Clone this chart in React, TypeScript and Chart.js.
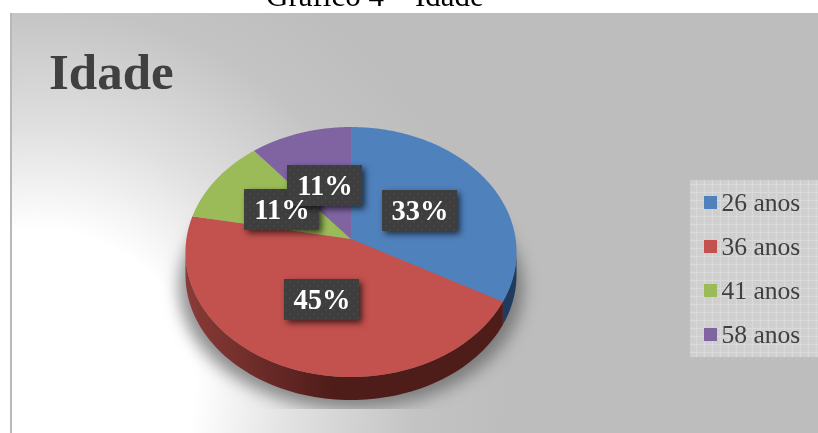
import { useEffect, useRef } from "react";
import { Chart, registerables, ArcElement, PieController } from "chart.js";

Chart.register(...registerables);

const categories = ["26 anos", "36 anos", "41 anos", "58 anos"];
const percentValues = [33, 45, 11, 11];
const sliceColors = ["#4f81bd", "#c3514e", "#9bbb59", "#8064a2"];
const wallDark = ["#1f3c5f", "#4e1c19", "#4e5e2c", "#403251"];
const wallLight = ["#2c5380", "#8a3b37", "#6a7f3c", "#574470"];
const valueLabelBoxes = [
  { x: 382, y: 190 },
  { x: 284, y: 279 },
  { x: 244, y: 189 },
  { x: 287, y: 165 },
];

const SERIF = '"Liberation Serif", serif';
const PIE = { cx: 351, cy: 239, rx: 164.6, ky: 123.65, p: -0.104, depth: 23 };

function project(theta: number) {
  const u = Math.sin(theta);
  const v = -Math.cos(theta);
  const d = 1 + PIE.p * v;
  return { x: PIE.cx + (PIE.rx * u) / d, y: PIE.cy + (PIE.ky * v) / d };
}

class TiltedArc extends ArcElement {
  static id = "tiltedArc";
  draw(ctx: CanvasRenderingContext2D) {
    const { startAngle, endAngle, options } = this as any;
    const a0 = startAngle + Math.PI / 2;
    const a1 = endAngle + Math.PI / 2;
    const index = sliceColors.indexOf(options.backgroundColor);
    // Side wall, only where the rim faces the viewer
    const front0 = Math.max(a0, (96 * Math.PI) / 180);
    const front1 = Math.min(a1, (264 * Math.PI) / 180);
    ctx.save();
    if (front1 > front0) {
      const grad = ctx.createLinearGradient(185, 0, 517, 0);
      grad.addColorStop(0, wallLight[index]);
      grad.addColorStop(0.45, wallDark[index]);
      grad.addColorStop(1, wallDark[index]);
      ctx.fillStyle = grad;
      ctx.beginPath();
      const n = 90;
      for (let i = 0; i <= n; i++) {
        const pt = project(front0 + ((front1 - front0) * i) / n);
        if (i === 0) ctx.moveTo(pt.x, pt.y);
        else ctx.lineTo(pt.x, pt.y);
      }
      for (let i = n; i >= 0; i--) {
        const pt = project(front0 + ((front1 - front0) * i) / n);
        ctx.lineTo(pt.x, pt.y + PIE.depth);
      }
      ctx.closePath();
      ctx.fill();
    }
    // Top face
    ctx.fillStyle = options.backgroundColor;
    ctx.beginPath();
    ctx.moveTo(PIE.cx, PIE.cy);
    const steps = 120;
    for (let i = 0; i <= steps; i++) {
      const pt = project(a0 + ((a1 - a0) * i) / steps);
      ctx.lineTo(pt.x, pt.y);
    }
    ctx.closePath();
    ctx.fill();
    ctx.restore();
  }
}

class TiltedPie extends PieController {
  static id = "tiltedPie";
  static defaults = { ...(PieController as any).defaults, dataElementType: "tiltedArc" };
  static overrides = (PieController as any).overrides;
}

Chart.register(TiltedArc as any, TiltedPie as any);

function makeLegendPattern(ctx: CanvasRenderingContext2D) {
  const c = document.createElement("canvas");
  c.width = 8;
  c.height = 8;
  const g = c.getContext("2d")!;
  g.fillStyle = "#d0d0d0";
  g.fillRect(0, 0, 8, 8);
  g.fillStyle = "#dadada";
  g.fillRect(0, 0, 8, 1);
  g.fillRect(0, 0, 1, 8);
  g.fillStyle = "#c9c9c9";
  g.fillRect(2, 2, 1, 1);
  g.fillRect(5, 5, 1, 1);
  g.fillRect(2, 5, 1, 1);
  g.fillRect(5, 2, 1, 1);
  return ctx.createPattern(c, "repeat")!;
}

function makeLabelPattern(ctx: CanvasRenderingContext2D) {
  const c = document.createElement("canvas");
  c.width = 8;
  c.height = 8;
  const g = c.getContext("2d")!;
  g.fillStyle = "#3e3e3e";
  g.fillRect(0, 0, 8, 8);
  g.fillStyle = "#464646";
  g.fillRect(1, 1, 2, 2);
  g.fillRect(5, 5, 2, 2);
  return ctx.createPattern(c, "repeat")!;
}

const backdropPlugin = {
  id: "backdrop",
  beforeDraw(chart: any) {
    const ctx: CanvasRenderingContext2D = chart.ctx;
    ctx.save();
    ctx.fillStyle = "#ffffff";
    ctx.fillRect(0, 0, 818, 433);
    // Panel
    ctx.beginPath();
    ctx.rect(12, 13, 806, 420);
    ctx.save();
    ctx.clip();
    ctx.fillStyle = "#bdbdbd";
    ctx.fillRect(12, 13, 806, 420);
    const glow = ctx.createRadialGradient(40, 385, 0, 40, 385, 470);
    glow.addColorStop(0, "rgba(255,255,255,1)");
    glow.addColorStop(0.33, "rgba(255,255,255,1)");
    glow.addColorStop(0.55, "rgba(255,255,255,0.53)");
    glow.addColorStop(0.8, "rgba(255,255,255,0.1)");
    glow.addColorStop(1, "rgba(255,255,255,0)");
    ctx.fillStyle = glow;
    ctx.fillRect(12, 13, 806, 420);
    // Cast shadow of the pie, cut off by a hard edge at its bottom
    ctx.beginPath();
    ctx.rect(140, 100, 420, 309);
    ctx.clip();
    ctx.filter = "blur(8px)";
    ctx.fillStyle = "rgba(80,80,80,0.62)";
    ctx.beginPath();
    ctx.ellipse(351, 288, 172, 121, 0, 0, Math.PI * 2);
    ctx.fill();
    ctx.filter = "none";
    ctx.restore();
    ctx.fillStyle = "#b8b8b8";
    ctx.fillRect(10, 13, 2, 420);
    // Legend panel
    ctx.fillStyle = makeLegendPattern(ctx);
    ctx.fillRect(690, 180, 128, 177);
    // Caption above the panel
    ctx.fillStyle = "#000000";
    ctx.font = `31px ${SERIF}`;
    ctx.textBaseline = "alphabetic";
    ctx.fillText("Gráfico 4 – Idade", 266, 6);
    ctx.restore();
  },
  afterLayout(chart: any) {
    // Move the legend block down beside the pie
    const legend = chart.legend;
    const w = legend.right - legend.left;
    legend.left = 689.2;
    legend.right = legend.left + w;
    legend.top += 54;
    legend.bottom += 54;
  },
  afterDatasetsDraw(chart: any) {
    const ctx: CanvasRenderingContext2D = chart.ctx;
    const pattern = makeLabelPattern(ctx);
    ctx.save();
    percentValues.forEach((_, i) => {
      const b = valueLabelBoxes[i];
      ctx.save();
      ctx.shadowColor = "rgba(0,0,0,0.65)";
      ctx.shadowBlur = 6;
      ctx.shadowOffsetX = 3;
      ctx.shadowOffsetY = 3;
      ctx.fillStyle = pattern;
      ctx.fillRect(b.x, b.y, 75, 41);
      ctx.restore();
    });
    percentValues.forEach((v, i) => {
      const b = valueLabelBoxes[i];
      ctx.fillStyle = "#ffffff";
      ctx.font = `bold 28.5px ${SERIF}`;
      ctx.textAlign = "center";
      ctx.textBaseline = "middle";
      ctx.fillText(`${v}%`, b.x + 38, b.y + 23);
    });
    ctx.restore();
  },
  afterDraw(chart: any) {
    // Legend swatches sit closer to their text than the library's gap allows
    const ctx: CanvasRenderingContext2D = chart.ctx;
    ctx.save();
    sliceColors.forEach((color, i) => {
      ctx.fillStyle = color;
      ctx.fillRect(704, 196 + 44 * i, 13, 13);
    });
    ctx.restore();
  },
};

export default function App() {
  const ref = useRef<HTMLCanvasElement | null>(null);
  useEffect(() => {
    document.body.style.margin = "0";
    const chart = new Chart(ref.current!, {
      type: "tiltedPie" as any,
      data: {
        labels: categories,
        datasets: [{ data: percentValues, backgroundColor: sliceColors, borderWidth: 0 }],
      },
      plugins: [backdropPlugin],
      options: {
        animation: false,
        responsive: false,
        layout: { padding: { left: 49 } },
        plugins: {
          tooltip: { enabled: false },
          title: {
            display: true,
            text: "Idade",
            align: "start",
            color: "#404040",
            font: { family: SERIF, size: 51, weight: "bold" },
            padding: { top: 45, bottom: 0 },
          },
          legend: {
            display: true,
            position: "right",
            labels: {
              color: "#404040",
              font: { family: SERIF, size: 25.6 },
              boxWidth: 1,
              boxHeight: 13,
              padding: 18.4,
              generateLabels: () =>
                categories.map((text, index) => ({
                  text,
                  index,
                  fontColor: "#404040",
                  fillStyle: "rgba(0,0,0,0)",
                  strokeStyle: "rgba(0,0,0,0)",
                  lineWidth: 0,
                  hidden: false,
                })),
            },
          },
        },
      } as any,
    });
    return () => chart.destroy();
  }, []);
  return <canvas ref={ref} width={818} height={433} style={{ display: "block" }} />;
}
